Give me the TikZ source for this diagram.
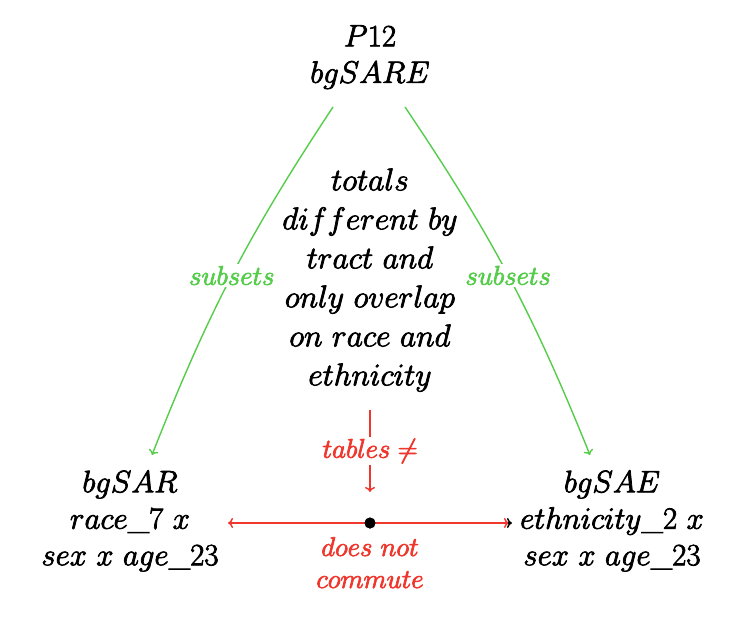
\RequirePackage{fix-cm}
\documentclass[tikz,border=0pt]{standalone}
\usetikzlibrary{arrows.meta}
\definecolor{eg}{RGB}{85,205,75}
\definecolor{er}{RGB}{240,55,45}
\newcommand\heavy{\special{pdf:literal direct 2 Tr 0.75 w}}
\newcommand\mainfs{\fontsize{31}{36.5}\selectfont\heavy}
\newcommand\centfs{\fontsize{31.5}{39}\selectfont\heavy}
\newcommand\labfs{\fontsize{27}{32}\selectfont\heavy}
\begin{document}
\begin{tikzpicture}[x=1pt,y=-1pt,
  mainnode/.style={font=\mainfs, align=center, inner sep=0pt},
  centnode/.style={font=\centfs, align=center, inner sep=0pt},
  glabel/.style={font=\labfs, text=eg, fill=white, inner sep=2pt, align=center},
  rlabel/.style={font=\labfs, text=er, fill=white, inner sep=2pt, align=center},
  tip/.style={-{To[length=5pt,width=10pt]}},
  greenedge/.style={draw=eg, line width=1.4pt, tip},
  rededge/.style={draw=er, line width=1.4pt, tip},
  dotnode/.style={circle, fill=black, inner sep=0pt, minimum size=11pt}]
\useasboundingbox (0,0) rectangle (751,620);
\node[mainnode] (T) at (370,57) {$P12$\\$bgSARE$};
\node[mainnode] (L) at (130,521) {$bgSAR$\\$race\_7\ x$\\$sex\ x\ age\_23$};
\node[mainnode] (R) at (612,521) {$bgSAE$\\$ethnicity\_2\ x$\\$sex\ x\ age\_23$};
\node[centnode] (C) at (370,280) {$totals$\\$different\ by$\\$tract\ and$\\$only\ overlap$\\$on\ race\ and$\\$ethnicity$};
\draw[greenedge] ([shift={(-37,50)}]T.center) to[bend right=6] node[glabel]{$subsets$} ([shift={(22,-66)}]L.center);
\draw[greenedge] ([shift={(35,50)}]T.center) to[bend left=6] node[glabel]{$subsets$} ([shift={(-22,-66)}]R.center);
\node[dotnode] (D) at (370,523) {};
\draw[rededge] ([shift={(0,130)}]C.center) -- node[rlabel]{$tables\neq$} ([shift={(0,-31)}]D.center);
\draw[rededge] (D.center) -- ([shift={(98,2)}]L.center);
\draw[rededge] (D.center) -- ([shift={(-103,2)}]R.center);
\draw[draw=black, line width=1.4pt, tip] ([shift={(-104,2)}]R.center) -- ([shift={(-100,2)}]R.center);
\node[dotnode] at (D) {};
\node[rlabel, anchor=north] (N) at (370,535) {$does\ not$\\$commute$};
\end{tikzpicture}
\end{document}
